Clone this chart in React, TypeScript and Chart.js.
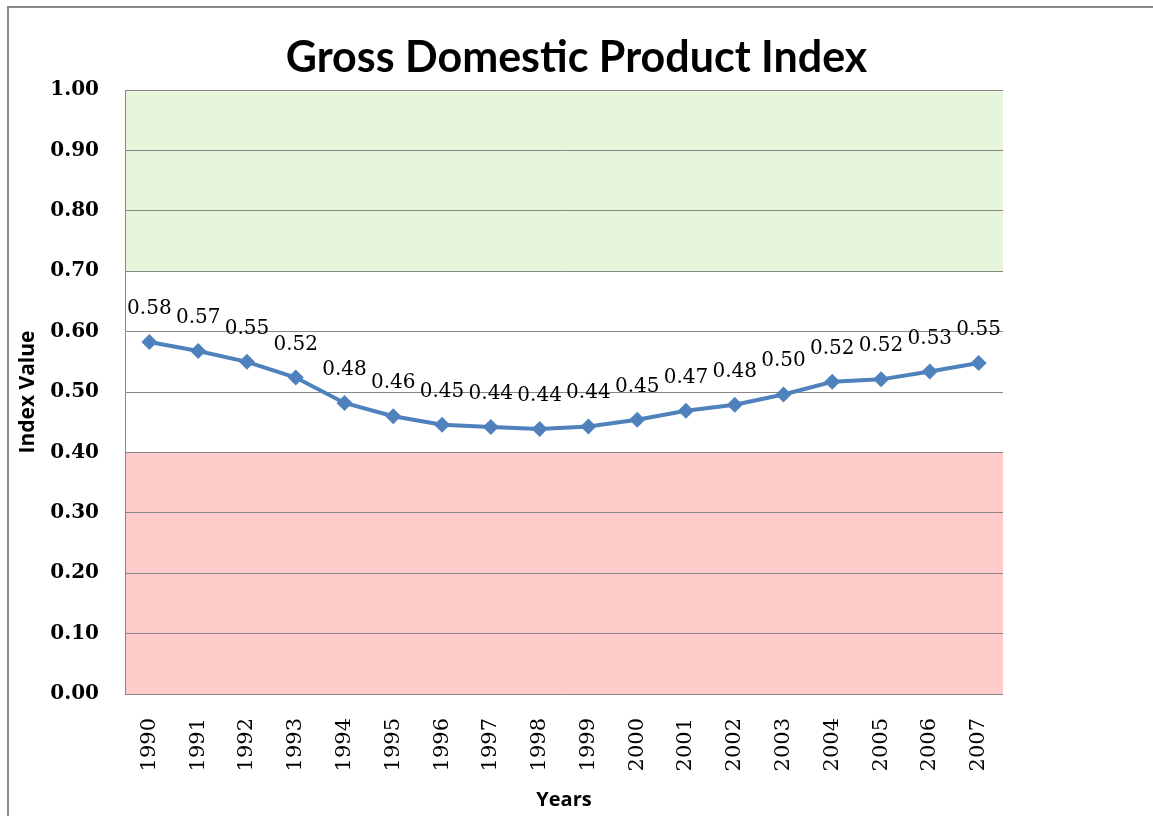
import React, { useEffect, useRef } from "react";
import { Chart, registerables } from "chart.js";

Chart.register(...registerables);

const title = "Gross Domestic Product Index";
const years = [
  "1990", "1991", "1992", "1993", "1994", "1995", "1996", "1997", "1998",
  "1999", "2000", "2001", "2002", "2003", "2004", "2005", "2006", "2007",
];
const indexValues = [
  0.583, 0.568, 0.55, 0.524, 0.482, 0.46, 0.446, 0.442, 0.439,
  0.443, 0.454, 0.469, 0.479, 0.496, 0.517, 0.521, 0.534, 0.548,
];
const yMin = 0;
const yMax = 1;
const yStep = 0.1;
const goodBand = [0.7, 1.0];
const poorBand = [0.0, 0.4];
const xTitle = "Years";
const yTitle = "Index Value";

const GRID = "#868686";
const LINE = "#4F81BD";
const GREEN = "#E7F5DC";
const RED = "#FFCBCB";
const SERIF = "'DejaVu Serif', serif";
const SANS = "Lato, 'Open Sans', sans-serif";
const SANS2 = "'Open Sans', Lato, sans-serif";

const bandsPlugin = {
  id: "bands",
  beforeDraw(chart: any) {
    const { ctx, chartArea } = chart;
    const y = chart.scales.y;
    ctx.save();
    const draw = (b: number[], c: string) => {
      const top = y.getPixelForValue(b[1]);
      const bot = y.getPixelForValue(b[0]);
      ctx.fillStyle = c;
      ctx.fillRect(chartArea.left, top, chartArea.right - chartArea.left, bot - top);
    };
    draw(goodBand, GREEN);
    draw(poorBand, RED);
    ctx.restore();
  },
};

const labelsPlugin = {
  id: "pointLabels",
  afterDatasetsDraw(chart: any) {
    const { ctx } = chart;
    const meta = chart.getDatasetMeta(0);
    ctx.save();
    ctx.font = `20px ${SERIF}`;
    ctx.fillStyle = "#000";
    ctx.textAlign = "center";
    ctx.textBaseline = "alphabetic";
    meta.data.forEach((pt: any, i: number) => {
      ctx.fillText(indexValues[i].toFixed(2), pt.x, pt.y - 28);
    });
    ctx.restore();
  },
};

export default function App() {
  const ref = useRef<HTMLCanvasElement>(null);
  useEffect(() => {
    if (!ref.current) return;
    const chart = new Chart(ref.current, {
      type: "line",
      data: {
        labels: years,
        datasets: [
          {
            data: indexValues,
            borderColor: LINE,
            backgroundColor: LINE,
            borderWidth: 4,
            pointStyle: "rectRot",
            pointRadius: 8,
            pointBorderWidth: 0,
            pointBackgroundColor: LINE,
            tension: 0,
            yAxisID: "y",
          },
        ],
      },
      options: {
        responsive: false,
        animation: false,
        layout: { padding: 0 },
        plugins: {
          legend: { display: false },
          tooltip: { enabled: false },
          title: {
            display: true,
            text: title,
            color: "#000",
            font: { family: SANS, size: 43, weight: "bold", lineHeight: 1.2 },
            padding: { top: 32, bottom: 6.5 },
          },
        },
        scales: {
          x: {
            offset: true,
            grid: { display: false, drawTicks: false },
            border: { display: false },
            ticks: {
              autoSkip: false,
              minRotation: 90,
              maxRotation: 90,
              padding: 24,
              color: "#000",
              font: { family: SERIF, size: 21 },
            },
            title: {
              display: true,
              text: xTitle,
              color: "#000",
              font: { family: SANS2, size: 20, weight: "bold", lineHeight: 1.2 },
              padding: { top: 0, bottom: 4 },
            },
            afterFit(scale: any) {
              scale.height = 122;
            },
          },
          y: {
            min: yMin,
            max: yMax,
            grid: { color: GRID, lineWidth: 1, drawTicks: false },
            border: { display: true, color: GRID, width: 1 },
            ticks: {
              stepSize: yStep,
              padding: 26,
              color: "#000",
              font: { family: SERIF, size: 20, weight: "bold" },
              callback: (v: any) => Number(v).toFixed(2),
            },
            title: {
              display: true,
              text: yTitle,
              color: "#000",
              font: { family: SANS2, size: 21, weight: "bold", lineHeight: 1.2 },
              padding: { top: 15, bottom: 0 },
            },
            afterFit(scale: any) {
              scale.width = 125;
            },
          },
          spacer: {
            type: "linear",
            position: "right",
            display: true,
            grid: { display: false, drawTicks: false },
            border: { display: false },
            ticks: { display: false },
            afterFit(scale: any) {
              scale.width = 150;
            },
          },
        },
      },
      plugins: [bandsPlugin, labelsPlugin],
    });
    return () => chart.destroy();
  }, []);

  return (
    <div style={{ position: "fixed", left: 0, top: 0, width: 1153, height: 816, background: "#fff" }}>
      <div
        style={{
          position: "absolute",
          left: 7,
          top: 6,
          width: 1160,
          height: 820,
          borderLeft: "2px solid #8a8a8a",
          borderTop: "2px solid #8a8a8a",
        }}
      />
      <canvas
        ref={ref}
        width={1153}
        height={816}
        style={{ position: "absolute", left: 0, top: 0, display: "block" }}
      />
    </div>
  );
}
